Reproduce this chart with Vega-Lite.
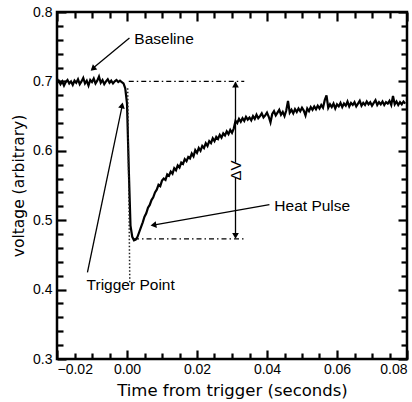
{
  "$schema": "https://vega.github.io/schema/vega-lite/v6.json",
  "width": 350,
  "height": 347,
  "autosize": {"type": "none"},
  "padding": {"left": 57, "right": 5, "top": 12, "bottom": 43},
  "background": "white",
  "config": {
    "view": {"stroke": "black", "strokeWidth": 2.5},
    "axis": {
      "domain": false,
      "grid": false,
      "labelFont": "Liberation Sans",
      "labelFontSize": 14,
      "labelColor": "black",
      "tickColor": "black",
      "tickWidth": 2.2,
      "titleFont": "DejaVu Sans",
      "titleFontWeight": "normal",
      "titleColor": "black"
    },
    "text": {"font": "Liberation Sans", "fontSize": 15.5, "color": "black"}
  },
  "datasets": {
    "signal": [
      {"t": -0.0200, "v": 0.697}, {"t": -0.0195, "v": 0.701}, {"t": -0.0190, "v": 0.696}, {"t": -0.0185, "v": 0.700},
      {"t": -0.0180, "v": 0.694}, {"t": -0.0175, "v": 0.699}, {"t": -0.0170, "v": 0.702}, {"t": -0.0165, "v": 0.697},
      {"t": -0.0160, "v": 0.700}, {"t": -0.0155, "v": 0.695}, {"t": -0.0150, "v": 0.701}, {"t": -0.0145, "v": 0.698},
      {"t": -0.0140, "v": 0.703}, {"t": -0.0135, "v": 0.696}, {"t": -0.0130, "v": 0.700}, {"t": -0.0125, "v": 0.705},
      {"t": -0.0120, "v": 0.697}, {"t": -0.0115, "v": 0.701}, {"t": -0.0110, "v": 0.694}, {"t": -0.0105, "v": 0.702},
      {"t": -0.0100, "v": 0.699}, {"t": -0.0095, "v": 0.704}, {"t": -0.0090, "v": 0.697}, {"t": -0.0085, "v": 0.701},
      {"t": -0.0080, "v": 0.707}, {"t": -0.0075, "v": 0.698}, {"t": -0.0070, "v": 0.702}, {"t": -0.0065, "v": 0.696},
      {"t": -0.0060, "v": 0.700}, {"t": -0.0055, "v": 0.703}, {"t": -0.0050, "v": 0.698}, {"t": -0.0045, "v": 0.701},
      {"t": -0.0040, "v": 0.697}, {"t": -0.0035, "v": 0.700}, {"t": -0.0030, "v": 0.702}, {"t": -0.0025, "v": 0.699},
      {"t": -0.0020, "v": 0.701}, {"t": -0.0015, "v": 0.699}, {"t": -0.0010, "v": 0.697}, {"t": -0.0005, "v": 0.690},
      {"t": 0.0000, "v": 0.668}, {"t": 0.0005, "v": 0.575}, {"t": 0.0010, "v": 0.492}, {"t": 0.0015, "v": 0.476},
      {"t": 0.0020, "v": 0.471}, {"t": 0.0025, "v": 0.472}, {"t": 0.0030, "v": 0.476}, {"t": 0.0035, "v": 0.483},
      {"t": 0.0040, "v": 0.490}, {"t": 0.0045, "v": 0.497}, {"t": 0.0050, "v": 0.505}, {"t": 0.0055, "v": 0.510},
      {"t": 0.0060, "v": 0.518}, {"t": 0.0065, "v": 0.522}, {"t": 0.0070, "v": 0.529}, {"t": 0.0075, "v": 0.533},
      {"t": 0.0080, "v": 0.540}, {"t": 0.0085, "v": 0.544}, {"t": 0.0090, "v": 0.551}, {"t": 0.0095, "v": 0.549},
      {"t": 0.0100, "v": 0.557}, {"t": 0.0105, "v": 0.560}, {"t": 0.0110, "v": 0.558}, {"t": 0.0115, "v": 0.566},
      {"t": 0.0120, "v": 0.564}, {"t": 0.0125, "v": 0.570}, {"t": 0.0130, "v": 0.567}, {"t": 0.0135, "v": 0.575},
      {"t": 0.0140, "v": 0.572}, {"t": 0.0145, "v": 0.579}, {"t": 0.0150, "v": 0.576}, {"t": 0.0155, "v": 0.583},
      {"t": 0.0160, "v": 0.581}, {"t": 0.0165, "v": 0.588}, {"t": 0.0170, "v": 0.585}, {"t": 0.0175, "v": 0.591},
      {"t": 0.0180, "v": 0.589}, {"t": 0.0185, "v": 0.596}, {"t": 0.0190, "v": 0.592}, {"t": 0.0195, "v": 0.601},
      {"t": 0.0200, "v": 0.597}, {"t": 0.0205, "v": 0.604}, {"t": 0.0210, "v": 0.600}, {"t": 0.0215, "v": 0.607},
      {"t": 0.0220, "v": 0.604}, {"t": 0.0225, "v": 0.611}, {"t": 0.0230, "v": 0.607}, {"t": 0.0235, "v": 0.614},
      {"t": 0.0240, "v": 0.611}, {"t": 0.0245, "v": 0.618}, {"t": 0.0250, "v": 0.614}, {"t": 0.0255, "v": 0.620},
      {"t": 0.0260, "v": 0.617}, {"t": 0.0265, "v": 0.623}, {"t": 0.0270, "v": 0.619}, {"t": 0.0275, "v": 0.625},
      {"t": 0.0280, "v": 0.622}, {"t": 0.0285, "v": 0.628}, {"t": 0.0290, "v": 0.624}, {"t": 0.0295, "v": 0.630},
      {"t": 0.0300, "v": 0.626}, {"t": 0.0305, "v": 0.632}, {"t": 0.0310, "v": 0.643}, {"t": 0.0315, "v": 0.640},
      {"t": 0.0320, "v": 0.646}, {"t": 0.0325, "v": 0.642}, {"t": 0.0330, "v": 0.647}, {"t": 0.0335, "v": 0.643},
      {"t": 0.0340, "v": 0.649}, {"t": 0.0345, "v": 0.645}, {"t": 0.0350, "v": 0.648}, {"t": 0.0355, "v": 0.644},
      {"t": 0.0360, "v": 0.650}, {"t": 0.0365, "v": 0.646}, {"t": 0.0370, "v": 0.652}, {"t": 0.0375, "v": 0.647},
      {"t": 0.0380, "v": 0.650}, {"t": 0.0385, "v": 0.654}, {"t": 0.0390, "v": 0.648}, {"t": 0.0395, "v": 0.651},
      {"t": 0.0400, "v": 0.655}, {"t": 0.0405, "v": 0.649}, {"t": 0.0410, "v": 0.641}, {"t": 0.0415, "v": 0.653},
      {"t": 0.0420, "v": 0.657}, {"t": 0.0425, "v": 0.651}, {"t": 0.0430, "v": 0.655}, {"t": 0.0435, "v": 0.659},
      {"t": 0.0440, "v": 0.652}, {"t": 0.0445, "v": 0.656}, {"t": 0.0450, "v": 0.650}, {"t": 0.0455, "v": 0.658},
      {"t": 0.0460, "v": 0.672}, {"t": 0.0465, "v": 0.655}, {"t": 0.0470, "v": 0.659}, {"t": 0.0475, "v": 0.654},
      {"t": 0.0480, "v": 0.660}, {"t": 0.0485, "v": 0.656}, {"t": 0.0490, "v": 0.661}, {"t": 0.0495, "v": 0.657},
      {"t": 0.0500, "v": 0.662}, {"t": 0.0505, "v": 0.658}, {"t": 0.0510, "v": 0.651}, {"t": 0.0515, "v": 0.661},
      {"t": 0.0520, "v": 0.657}, {"t": 0.0525, "v": 0.663}, {"t": 0.0530, "v": 0.659}, {"t": 0.0535, "v": 0.664},
      {"t": 0.0540, "v": 0.660}, {"t": 0.0545, "v": 0.665}, {"t": 0.0550, "v": 0.661}, {"t": 0.0555, "v": 0.666},
      {"t": 0.0560, "v": 0.662}, {"t": 0.0565, "v": 0.673}, {"t": 0.0570, "v": 0.680}, {"t": 0.0575, "v": 0.662},
      {"t": 0.0580, "v": 0.667}, {"t": 0.0585, "v": 0.663}, {"t": 0.0590, "v": 0.668}, {"t": 0.0595, "v": 0.661},
      {"t": 0.0600, "v": 0.667}, {"t": 0.0605, "v": 0.664}, {"t": 0.0610, "v": 0.669}, {"t": 0.0615, "v": 0.663},
      {"t": 0.0620, "v": 0.668}, {"t": 0.0625, "v": 0.665}, {"t": 0.0630, "v": 0.671}, {"t": 0.0635, "v": 0.664},
      {"t": 0.0640, "v": 0.669}, {"t": 0.0645, "v": 0.666}, {"t": 0.0650, "v": 0.670}, {"t": 0.0655, "v": 0.664},
      {"t": 0.0660, "v": 0.668}, {"t": 0.0665, "v": 0.672}, {"t": 0.0670, "v": 0.665}, {"t": 0.0675, "v": 0.669},
      {"t": 0.0680, "v": 0.666}, {"t": 0.0685, "v": 0.671}, {"t": 0.0690, "v": 0.667}, {"t": 0.0695, "v": 0.670},
      {"t": 0.0700, "v": 0.665}, {"t": 0.0705, "v": 0.669}, {"t": 0.0710, "v": 0.673}, {"t": 0.0715, "v": 0.666},
      {"t": 0.0720, "v": 0.670}, {"t": 0.0725, "v": 0.667}, {"t": 0.0730, "v": 0.671}, {"t": 0.0735, "v": 0.666},
      {"t": 0.0740, "v": 0.670}, {"t": 0.0745, "v": 0.668}, {"t": 0.0750, "v": 0.672}, {"t": 0.0755, "v": 0.666},
      {"t": 0.0760, "v": 0.679}, {"t": 0.0765, "v": 0.667}, {"t": 0.0770, "v": 0.671}, {"t": 0.0775, "v": 0.666},
      {"t": 0.0780, "v": 0.670}, {"t": 0.0785, "v": 0.667}, {"t": 0.0790, "v": 0.671}, {"t": 0.0795, "v": 0.668}
    ],
    "dashdot": [
      {"seg": "top", "t": 0.0005, "v": 0.700}, {"seg": "top", "t": 0.0335, "v": 0.700},
      {"seg": "bottom", "t": 0.0020, "v": 0.473}, {"seg": "bottom", "t": 0.0340, "v": 0.473}
    ],
    "dotted": [
      {"t": 0.0002, "v": 0.690}, {"t": 0.0008, "v": 0.410}
    ],
    "leaders": [
      {"name": "Baseline", "t1": 0.0007, "v1": 0.7624, "t2": -0.0100, "v2": 0.7180},
      {"name": "Heat Pulse", "t1": 0.0407, "v1": 0.5226, "t2": 0.0075, "v2": 0.4928},
      {"name": "Trigger Point", "t1": -0.0113, "v1": 0.4248, "t2": -0.0015, "v2": 0.662},
      {"name": "dV top", "t1": 0.031, "v1": 0.699, "t2": 0.031, "v2": 0.583},
      {"name": "dV bottom", "t1": 0.031, "v1": 0.561, "t2": 0.031, "v2": 0.475}
    ],
    "heads": [
      {"name": "Baseline", "t": -0.00954, "v": 0.7191},
      {"name": "Heat Pulse", "t": 0.00783, "v": 0.4932},
      {"name": "Trigger Point", "t": -0.00146, "v": 0.664},
      {"name": "dV top", "t": 0.031, "v": 0.6955},
      {"name": "dV bottom", "t": 0.031, "v": 0.4775}
    ],
    "labels": [
      {"text": "Baseline", "t": 0.0021, "v": 0.7614},
      {"text": "Heat Pulse", "t": 0.0421, "v": 0.5211},
      {"text": "Trigger Point", "t": -0.01154, "v": 0.406}
    ],
    "dvlabel": [
      {"text": "ΔV", "t": 0.031, "v": 0.5715}
    ]
  },
  "resolve": {"axis": {"x": "independent", "y": "independent"}},
  "layer": [
    {
      "data": {"name": "signal"},
      "mark": {"type": "line", "color": "black", "strokeWidth": 2.2, "strokeJoin": "miter", "clip": true},
      "encoding": {
        "x": {
          "field": "t", "type": "quantitative",
          "scale": {"domain": [-0.02, 0.08], "nice": false, "zero": false},
          "axis": {
            "orient": "bottom",
            "values": [-0.02, -0.015, -0.01, -0.005, 0, 0.005, 0.01, 0.015, 0.02, 0.025, 0.03, 0.035, 0.04, 0.045, 0.05, 0.055, 0.06, 0.065, 0.07, 0.075, 0.08],
            "labelExpr": "abs(round(datum.value*1000)) % 20 === 0 ? format(datum.value, '.2f') : ''",
            "labelFlush": true,
            "labelOverlap": false,
            "tickSize": {"condition": {"test": "abs(round(datum.value*1000)) % 20 === 0", "value": -9}, "value": -6},
            "labelPadding": 12,
            "title": "Time from trigger (seconds)",
            "titleFontSize": 16.5,
            "titlePadding": 3
          }
        },
        "y": {
          "field": "v", "type": "quantitative",
          "scale": {"domain": [0.3, 0.8], "nice": false, "zero": false},
          "axis": {
            "orient": "left",
            "values": [0.3, 0.32, 0.34, 0.36, 0.38, 0.4, 0.42, 0.44, 0.46, 0.48, 0.5, 0.52, 0.54, 0.56, 0.58, 0.6, 0.62, 0.64, 0.66, 0.68, 0.7, 0.72, 0.74, 0.76, 0.78, 0.8],
            "labelExpr": "round(datum.value*100) % 10 === 0 ? format(datum.value, '.1f') : ''",
            "labelOverlap": false,
            "tickSize": {"condition": {"test": "round(datum.value*100) % 10 === 0", "value": -9}, "value": -6},
            "labelPadding": 14,
            "title": "voltage (arbitrary)",
            "titleFontSize": 15.5,
            "titlePadding": 6
          }
        }
      }
    },
    {
      "data": {"name": "dashdot"},
      "mark": {"type": "line", "color": "black", "strokeWidth": 1.3, "strokeDash": [5, 3, 1.5, 3]},
      "encoding": {
        "x": {
          "field": "t", "type": "quantitative",
          "scale": {"domain": [-0.02, 0.08], "nice": false, "zero": false},
          "axis": {
            "orient": "top",
            "values": [-0.02, -0.015, -0.01, -0.005, 0, 0.005, 0.01, 0.015, 0.02, 0.025, 0.03, 0.035, 0.04, 0.045, 0.05, 0.055, 0.06, 0.065, 0.07, 0.075, 0.08],
            "labels": false,
            "tickSize": {"condition": {"test": "abs(round(datum.value*1000)) % 20 === 0", "value": -9}, "value": -6},
            "title": null
          }
        },
        "y": {
          "field": "v", "type": "quantitative",
          "scale": {"domain": [0.3, 0.8], "nice": false, "zero": false},
          "axis": {
            "orient": "right",
            "values": [0.3, 0.32, 0.34, 0.36, 0.38, 0.4, 0.42, 0.44, 0.46, 0.48, 0.5, 0.52, 0.54, 0.56, 0.58, 0.6, 0.62, 0.64, 0.66, 0.68, 0.7, 0.72, 0.74, 0.76, 0.78, 0.8],
            "labels": false,
            "tickSize": {"condition": {"test": "round(datum.value*100) % 10 === 0", "value": -9}, "value": -6},
            "title": null
          }
        },
        "detail": {"field": "seg"}
      }
    },
    {
      "data": {"name": "dotted"},
      "mark": {"type": "line", "color": "#222", "strokeWidth": 1.5, "strokeDash": [1.5, 2]},
      "encoding": {
        "x": {"field": "t", "type": "quantitative", "scale": {"domain": [-0.02, 0.08], "nice": false, "zero": false}, "axis": null},
        "y": {"field": "v", "type": "quantitative", "scale": {"domain": [0.3, 0.8], "nice": false, "zero": false}, "axis": null}
      }
    },
    {
      "data": {"name": "leaders"},
      "mark": {"type": "rule", "color": "black", "strokeWidth": 1.3},
      "encoding": {
        "x": {"field": "t1", "type": "quantitative", "scale": {"domain": [-0.02, 0.08], "nice": false, "zero": false}, "axis": null},
        "y": {"field": "v1", "type": "quantitative", "scale": {"domain": [0.3, 0.8], "nice": false, "zero": false}, "axis": null},
        "x2": {"field": "t2"},
        "y2": {"field": "v2"}
      }
    },
    {
      "data": {"name": "heads"},
      "transform": [{"filter": "datum.name === 'Baseline'"}],
      "mark": {"type": "point", "shape": "triangle", "angle": 229, "size": 45, "filled": true, "color": "black", "opacity": 1},
      "encoding": {
        "x": {"field": "t", "type": "quantitative", "scale": {"domain": [-0.02, 0.08], "nice": false, "zero": false}, "axis": null},
        "y": {"field": "v", "type": "quantitative", "scale": {"domain": [0.3, 0.8], "nice": false, "zero": false}, "axis": null}
      }
    },
    {
      "data": {"name": "heads"},
      "transform": [{"filter": "datum.name === 'Heat Pulse'"}],
      "mark": {"type": "point", "shape": "triangle", "angle": 260, "size": 45, "filled": true, "color": "black", "opacity": 1},
      "encoding": {
        "x": {"field": "t", "type": "quantitative", "scale": {"domain": [-0.02, 0.08], "nice": false, "zero": false}, "axis": null},
        "y": {"field": "v", "type": "quantitative", "scale": {"domain": [0.3, 0.8], "nice": false, "zero": false}, "axis": null}
      }
    },
    {
      "data": {"name": "heads"},
      "transform": [{"filter": "datum.name === 'Trigger Point'"}],
      "mark": {"type": "point", "shape": "triangle", "angle": 12, "size": 45, "filled": true, "color": "black", "opacity": 1},
      "encoding": {
        "x": {"field": "t", "type": "quantitative", "scale": {"domain": [-0.02, 0.08], "nice": false, "zero": false}, "axis": null},
        "y": {"field": "v", "type": "quantitative", "scale": {"domain": [0.3, 0.8], "nice": false, "zero": false}, "axis": null}
      }
    },
    {
      "data": {"name": "heads"},
      "transform": [{"filter": "datum.name === 'dV top'"}],
      "mark": {"type": "point", "shape": "triangle-up", "size": 45, "filled": true, "color": "black", "opacity": 1},
      "encoding": {
        "x": {"field": "t", "type": "quantitative", "scale": {"domain": [-0.02, 0.08], "nice": false, "zero": false}, "axis": null},
        "y": {"field": "v", "type": "quantitative", "scale": {"domain": [0.3, 0.8], "nice": false, "zero": false}, "axis": null}
      }
    },
    {
      "data": {"name": "heads"},
      "transform": [{"filter": "datum.name === 'dV bottom'"}],
      "mark": {"type": "point", "shape": "triangle-down", "size": 45, "filled": true, "color": "black", "opacity": 1},
      "encoding": {
        "x": {"field": "t", "type": "quantitative", "scale": {"domain": [-0.02, 0.08], "nice": false, "zero": false}, "axis": null},
        "y": {"field": "v", "type": "quantitative", "scale": {"domain": [0.3, 0.8], "nice": false, "zero": false}, "axis": null}
      }
    },
    {
      "data": {"name": "labels"},
      "mark": {"type": "text", "align": "left", "baseline": "middle", "fontSize": 15.5},
      "encoding": {
        "x": {"field": "t", "type": "quantitative", "scale": {"domain": [-0.02, 0.08], "nice": false, "zero": false}, "axis": null},
        "y": {"field": "v", "type": "quantitative", "scale": {"domain": [0.3, 0.8], "nice": false, "zero": false}, "axis": null},
        "text": {"field": "text"}
      }
    },
    {
      "data": {"name": "dvlabel"},
      "mark": {"type": "text", "align": "center", "baseline": "middle", "fontSize": 15, "angle": 270},
      "encoding": {
        "x": {"field": "t", "type": "quantitative", "scale": {"domain": [-0.02, 0.08], "nice": false, "zero": false}, "axis": null},
        "y": {"field": "v", "type": "quantitative", "scale": {"domain": [0.3, 0.8], "nice": false, "zero": false}, "axis": null},
        "text": {"field": "text"}
      }
    }
  ]
}
